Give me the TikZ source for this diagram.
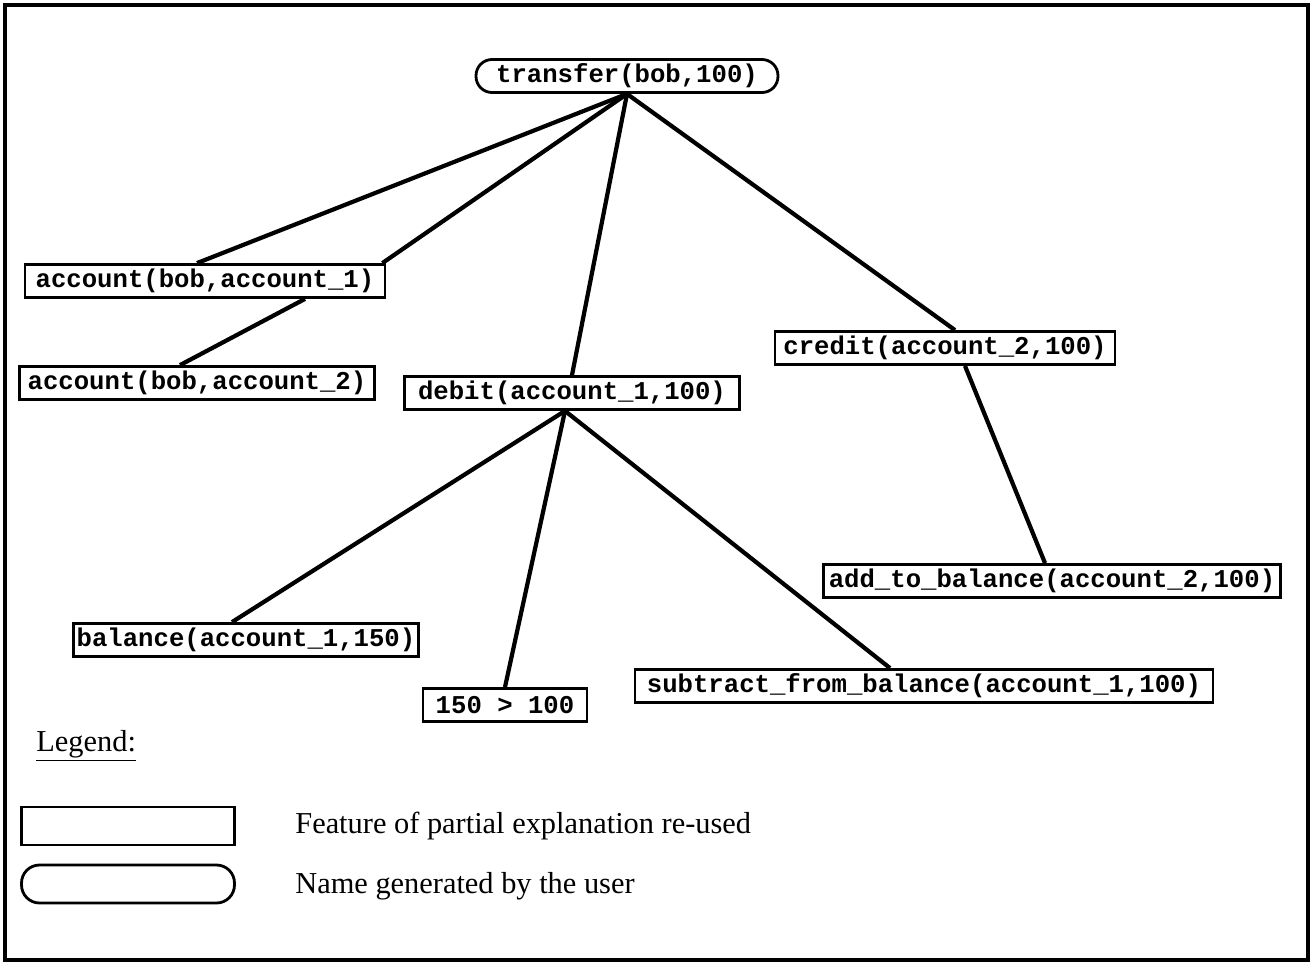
\documentclass[tikz,border=0pt]{standalone}
\usepackage{fontspec}
\setmainfont{Liberation Serif}
\setmonofont{Liberation Mono}
\usetikzlibrary{calc}

\begin{document}
\begin{tikzpicture}[
  x=0.02cm, y=-0.02cm,
  feat/.style={rectangle, draw=black, line width=1.6pt, fill=white,
               font=\fontsize{14.6}{17}\selectfont\ttfamily\bfseries,
               minimum height=0.66cm, inner xsep=2pt, inner ysep=1pt},
  uname/.style={feat, rounded corners=0.32cm},
  link/.style={line width=2.4pt, draw=black},
  lgd/.style={font=\fontsize{17.3}{20}\selectfont, anchor=west, inner sep=0pt},
]

\useasboundingbox (0,0) rectangle (1312,964);

% frame
\draw[line width=1.8pt] (5,5) rectangle (1308,960);

% nodes
\node[uname, minimum width=6.04cm]  (transfer) at (627,76)  {transfer(bob,100)};
\node[feat, minimum width=7.2cm]    (acc1)     at (205,281) {account(bob,account\_1)};
\node[feat, minimum width=7.1cm]    (acc2)     at (197,383) {account(bob,account\_2)};
\node[feat, minimum width=6.7cm]    (debit)    at (572,393) {debit(account\_1,100)};
\node[feat, minimum width=6.8cm]    (credit)   at (945,348) {credit(account\_2,100)};
\node[feat, minimum width=9.14cm]   (addbal)   at (1052,581) {add\_to\_balance(account\_2,100)};
\node[feat, minimum width=6.76cm]   (bal)      at (246,640) {balance(account\_1,150)};
\node[feat, minimum width=3.28cm]   (gt)       at (505,705) {150 > 100};
\node[feat, minimum width=11.56cm]  (subbal)   at (924,686) {subtract\_from\_balance(account\_1,100)};

% connectors
\draw[link] (transfer.south) -- ([xshift=-0.16cm]acc1.north);
\draw[link] (transfer.south) -- ([xshift=-0.08cm]acc1.north east);
\draw[link] ([xshift=2cm]acc1.south) -- ([xshift=-0.34cm]acc2.north);
\draw[link] (transfer.south) -- (debit.north);
\draw[link] (transfer.south) -- ([xshift=0.2cm]credit.north);
\draw[link] ([xshift=0.4cm]credit.south) -- ([xshift=-0.14cm]addbal.north);
\draw[link] ([xshift=-0.14cm]debit.south) -- ([xshift=-0.28cm]bal.north);
\draw[link] ([xshift=-0.14cm]debit.south) -- (gt.north);
\draw[link] ([xshift=-0.14cm]debit.south) -- ([xshift=-0.68cm]subbal.north);

% legend
\node[lgd] (lgdtitle) at (36,746) {\underline{Legend:}};
\node[feat, minimum width=4.26cm, minimum height=0.76cm] (lgdbox) at (128,826) {};
\node[uname, minimum width=4.26cm, minimum height=0.76cm, rounded corners=0.36cm] (lgdround) at (128,884) {};
\node[lgd] (lgdfeat) at (295,826) {Feature of partial explanation re-used};
\node[lgd] (lgdname) at (295,886) {Name generated by the user};

\end{tikzpicture}
\end{document}
